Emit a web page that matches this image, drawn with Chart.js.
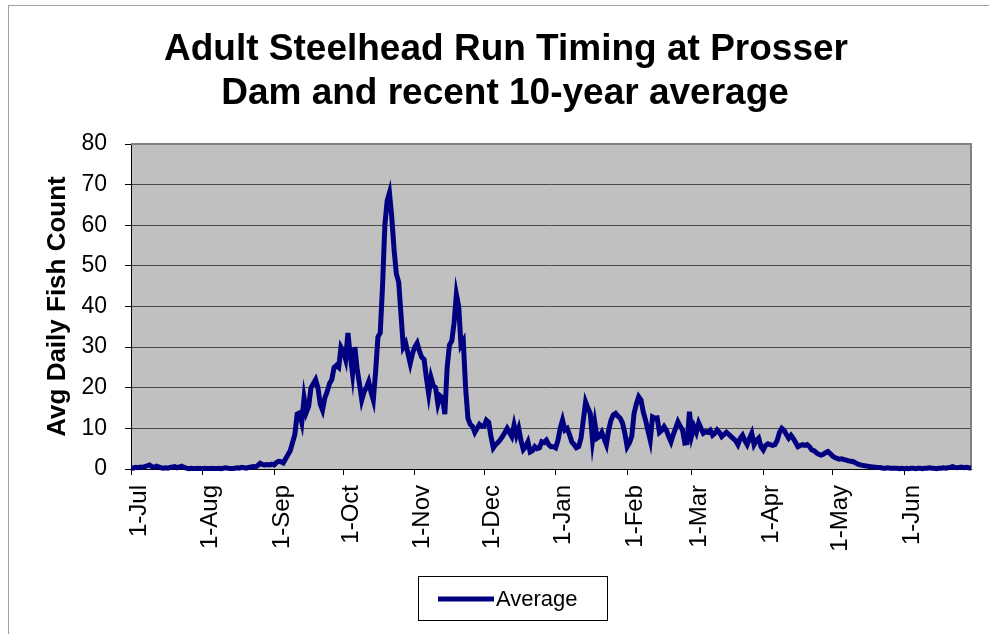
<!DOCTYPE html>
<html>
<head>
<meta charset="utf-8">
<script src="https://cdn.jsdelivr.net/npm/chart.js@4.4.0/dist/chart.umd.min.js"></script>
<style>
    html, body { margin: 0; padding: 0; background: #fff; }
</style>
</head>
<body>
<canvas id="runChart" width="989" height="634"></canvas>
<script>
const titleLines = ['Adult Steelhead Run Timing at Prosser', 'Dam and recent 10-year average'];
const yAxisTitle = 'Avg Daily Fish Count';
const seriesName = 'Average';
const monthLabels = ['1-Jul', '1-Aug', '1-Sep', '1-Oct', '1-Nov', '1-Dec',
                     '1-Jan', '1-Feb', '1-Mar', '1-Apr', '1-May', '1-Jun'];

// average daily counts, one array per month
const jul = [0.3,0.2,0.4,0.3,0.5,0.4,0.6,0.8,1.0,0.6,0.4,0.7,0.5,0.3,0.2,0.3,0.2,0.4,0.5,0.6,0.3,0.5,0.7,0.4,0.2,0.1,0.2,0.1,0.1,0.2,0.1];
const aug = [0.1,0.2,0.1,0.1,0.2,0.1,0.1,0.2,0.1,0.2,0.3,0.2,0.1,0.1,0.2,0.3,0.2,0.4,0.3,0.2,0.4,0.5,0.6,0.5,0.9,1.4,1.1,1.0,1.1,1.0,1.2];
const sep = [1.0,1.6,1.9,1.8,1.5,2.5,3.5,4.5,6.5,8.5,13.5,13.8,11.5,17.5,14,15.5,20,21,22,20,16,14.5,17.5,19,21,22,25,25.5,25,30];
const oct = [29,27,33.5,28,23.5,30,24.5,21,17,19,20,21.5,19,17,24,32.5,33.5,45,60,66,68,62,54,48,46,38,30,31,28.5,26,28.5];
const nov = [30,31,29,27.5,27,22.5,18.5,22.5,20.5,20,16,18,17.5,13.5,25,30.5,31.5,36,43,40,30.5,31.5,20,12.5,11,10.5,9,10,11,10.5];
const dec = [10.5,12,11.5,8,5.2,6,6.5,7.2,8,9,10,9,8,10.8,8.3,10,7,4.8,5.5,6.7,4.2,4.5,5.5,5,5.2,6.7,6.5,7.1,6,5.5,5.5];
const jan = [5.2,7,10,12,9.6,10,8.5,6.7,6,5.2,5.5,7.6,12,16.5,15,13.7,7.1,11.3,7.6,8,9,7.5,6,9.6,12,13.3,13.7,13,12.5,11.3,8.8];
const feb = [5.5,6.5,8,13.7,16,17.8,17,14,12,9.5,7.1,12.8,12.5,12.6,9,9.5,10.4,9.5,8,6.7,8.5,10,11.6,10.5,9.6,6.4,6.5,14.1];
const mar = [8.3,10.4,9,11.3,10,8.8,9.2,9,9.5,8.3,8.8,9.6,9,8,8.5,9,8.5,8,7.5,7,6,7.5,8.3,7,6,7.5,8.8,6,7,7.6,5.5];
const apr = [4.7,5.8,6.2,6,5.8,6,7,9,10,9.5,8.5,7.6,8.3,7.5,6.5,5.5,5.8,6,5.8,6,5.5,4.7,4.5,4,3.6,3.4,3.6,4,4.3,3.8];
const may = [3.2,2.8,2.6,2.4,2.5,2.3,2.2,2.0,1.9,1.8,1.5,1.2,1.0,0.9,0.8,0.7,0.6,0.5,0.5,0.4,0.4,0.3,0.2,0.2,0.3,0.2,0.2,0.2,0.2,0.1,0.2];
const jun = [0.1,0.2,0.1,0.2,0.2,0.1,0.2,0.2,0.1,0.2,0.2,0.3,0.2,0.2,0.1,0.2,0.2,0.3,0.2,0.3,0.4,0.6,0.4,0.3,0.4,0.5,0.3,0.4,0.3,0.2];

const months = [jul, aug, sep, oct, nov, dec, jan, feb, mar, apr, may, jun];

// day index of each month start + flat series
let monthStart = [];
let daily = [];
for (let m of months) {
    monthStart.push(daily.length);
    daily = daily.concat(m);
}

const FONT = '"Liberation Sans", Arial, sans-serif';

const decor = {
    id: 'decor',
    beforeDraw(chart) {
        const {ctx, chartArea: a} = chart;
        ctx.save();
        ctx.fillStyle = '#fff';
        ctx.fillRect(0, 0, chart.width, chart.height);
        ctx.strokeStyle = '#a0a0a0';
        ctx.lineWidth = 1;
        ctx.strokeRect(8.5, 5.5, 1100, 800);
        ctx.fillStyle = '#c0c0c0';
        ctx.fillRect(a.left, a.top, a.right - a.left, a.bottom - a.top);
        ctx.restore();
    },
    beforeDatasetsDraw(chart) {
        const {ctx, chartArea: a} = chart;
        ctx.save();
        ctx.strokeStyle = '#808080';
        ctx.lineWidth = 2;
        ctx.beginPath();
        ctx.moveTo(a.left, a.top);
        ctx.lineTo(a.right, a.top);
        ctx.lineTo(a.right, a.bottom);
        ctx.stroke();
        ctx.restore();
    },
    afterDraw(chart) {
        const ctx = chart.ctx;
        ctx.save();
        // title
        ctx.fillStyle = '#000';
        ctx.font = 'bold 37px ' + FONT;
        ctx.textAlign = 'center';
        ctx.textBaseline = 'alphabetic';
        ctx.fillText(titleLines[0], 506, 60);
        ctx.fillText(titleLines[1], 505, 104);
        // legend
        ctx.strokeStyle = '#000';
        ctx.lineWidth = 1;
        ctx.strokeRect(418.5, 576.5, 189, 44);
        ctx.strokeStyle = chart.data.datasets[0].borderColor;
        ctx.lineWidth = 5;
        ctx.beginPath();
        ctx.moveTo(438, 599);
        ctx.lineTo(494, 599);
        ctx.stroke();
        ctx.font = '22px ' + FONT;
        ctx.textAlign = 'left';
        ctx.textBaseline = 'middle';
        ctx.fillText(chart.data.datasets[0].label, 496, 600);
        ctx.restore();
    }
};

const data = {
    datasets: [{
            label: seriesName,
            data: daily.map((v, i) => ({x: i, y: v})),
            borderColor: '#000080',
            borderWidth: 5,
            pointRadius: 0,
            fill: false,
            tension: 0,
            clip: false
        }]
};

const config = {
    type: 'line',
    data: data,
    plugins: [decor],
    options: {
        responsive: false,
        animation: false,
        layout: {padding: {left: 0, right: 18, top: 144, bottom: 0}},
        plugins: {
            legend: {display: false},
            title: {display: false},
            tooltip: {enabled: false}
        },
        scales: {
            x: {
                type: 'linear',
                min: 0,
                max: daily.length - 1,
                afterBuildTicks: s => { s.ticks = monthStart.map(v => ({value: v})); },
                afterFit: s => { s.height = 634 - 469; },
                ticks: {
                    autoSkip: false,
                    minRotation: 90,
                    maxRotation: 90,
                    padding: 10,
                    labelOffset: 8,
                    color: '#000',
                    font: {family: FONT, size: 24},
                    callback: (v, i) => monthLabels[i]
                },
                grid: {drawOnChartArea: false, drawTicks: true, tickLength: 6, tickColor: '#000'},
                border: {color: '#000', width: 1}
            },
            y: {
                min: 0,
                max: 80,
                afterFit: s => { s.width = 131; },
                ticks: {
                    stepSize: 10,
                    padding: 18,
                    color: '#000',
                    font: {family: FONT, size: 23}
                },
                grid: {
                    color: c => c.tick && c.tick.value === 80 ? '#808080' : '#4a4a4a',
                    tickColor: '#000',
                    tickLength: 6
                },
                border: {color: '#000', width: 1},
                title: {
                    display: true,
                    text: yAxisTitle,
                    color: '#000',
                    font: {family: FONT, size: 26, weight: 'bold'},
                    padding: {top: 42, bottom: 0}
                }
            }
        }
    }
};

let ctx = document.getElementById('runChart').getContext('2d');
new Chart(ctx, config);
</script>
</body>
</html>
